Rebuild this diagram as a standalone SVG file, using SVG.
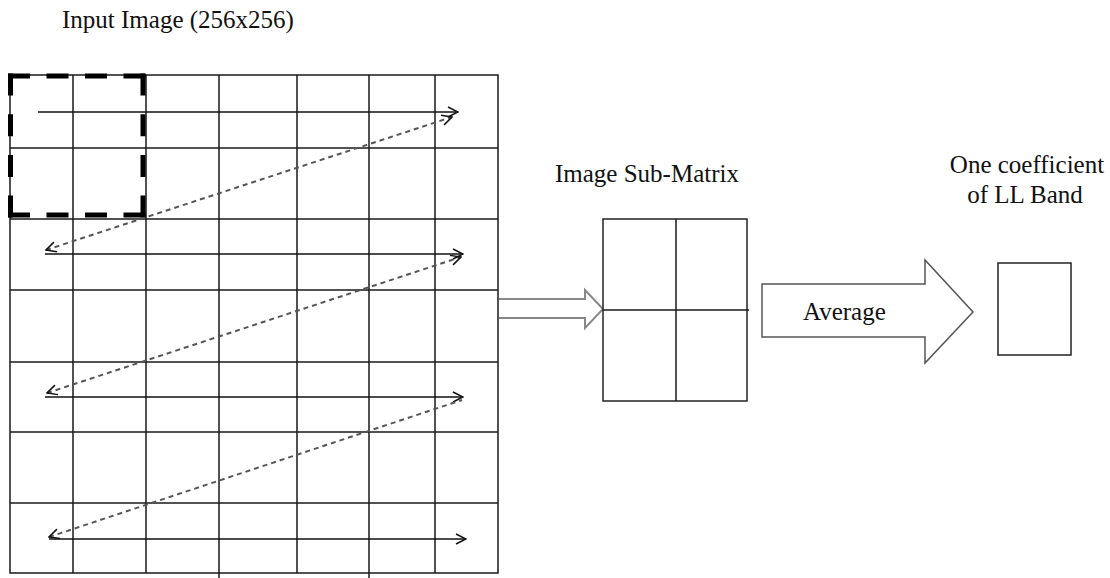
<svg xmlns="http://www.w3.org/2000/svg" width="1110" height="578" viewBox="0 0 1110 578">
<style>
.t{font-family:"Liberation Serif","Times New Roman",serif;font-size:25px;fill:#111}
.g{stroke:#1a1a1a;stroke-width:1.5;fill:none}
.box{stroke:#222;stroke-width:1.5;fill:#fff}
.sol{stroke:#111;stroke-width:1.3;fill:none}
.dsh{stroke:#555;stroke-width:2;fill:none;stroke-dasharray:5 4}
.thick{stroke:#000;stroke-width:5;fill:none}
</style>
<defs>
<marker id="ah" viewBox="0 0 12 12" refX="11" refY="6" markerWidth="12" markerHeight="12" markerUnits="userSpaceOnUse" orient="auto-start-reverse">
<path d="M1,1 L11,6 L1,11" fill="none" stroke="#111" stroke-width="1.5"/>
</marker>
</defs>
<rect width="1110" height="578" fill="#fff"/>
<g id="title"><text class="t" x="62" y="28">Input Image (256x256)</text></g>
<g id="input-grid">
<path class="g" d="M10,75H498V573H10Z M10,148H498 M10,219H498 M10,290H498 M10,362H498 M10,432H498 M10,503H498 M73,75V573 M146,75V573 M219,75V578 M297,75V573 M369,75V578 M435,75V573"/>
</g>
<g id="window">
<line class="thick" x1="8" y1="76" x2="145.5" y2="76" stroke-dasharray="22 16.5"/>
<line class="thick" x1="8" y1="215" x2="145.5" y2="215" stroke-dasharray="22 16.5"/>
<line class="thick" x1="10.5" y1="73.5" x2="10.5" y2="217.5" stroke-dasharray="22 18.7"/>
<line class="thick" x1="143" y1="73.5" x2="143" y2="217.5" stroke-dasharray="22 18.7"/>
</g>
<g id="connectors">
<line class="sol" x1="38" y1="112" x2="458" y2="112" marker-end="url(#ah)"/>
<line class="sol" x1="45" y1="254" x2="463" y2="254" marker-end="url(#ah)"/>
<line class="sol" x1="45" y1="397" x2="463" y2="397" marker-end="url(#ah)"/>
<line class="sol" x1="49" y1="539" x2="466" y2="539" marker-end="url(#ah)"/>
<line class="dsh" x1="46" y1="250" x2="452" y2="117" marker-start="url(#ah)" marker-end="url(#ah)"/>
<line class="dsh" x1="47" y1="393" x2="461" y2="257" marker-start="url(#ah)" marker-end="url(#ah)"/>
<line class="dsh" x1="49" y1="537" x2="462" y2="400" marker-start="url(#ah)"/>
<path id="hollow-arrow" d="M499,299H585V290L603,309L585,328V318H499" fill="#fff" stroke="#888" stroke-width="2"/>
<path id="average-arrow" d="M762,284H925V260L973,312L925,363V337H762Z" fill="#fff" stroke="#555" stroke-width="1.5"/>
</g>
<g id="avg-label"><text class="t" x="803" y="320">Average</text></g>
<g id="sub-matrix">
<text class="t" x="555" y="182">Image Sub-Matrix</text>
<rect class="box" x="603" y="219" width="144" height="182"/>
<path class="g" d="M676,219V401 M603,310H749"/>
</g>
<g id="ll-coefficient">
<text class="t" x="1027" y="173" text-anchor="middle">One coefficient</text>
<text class="t" x="1025" y="203" text-anchor="middle">of LL Band</text>
<rect class="box" x="998" y="263" width="73" height="92"/>
</g>
</svg>
